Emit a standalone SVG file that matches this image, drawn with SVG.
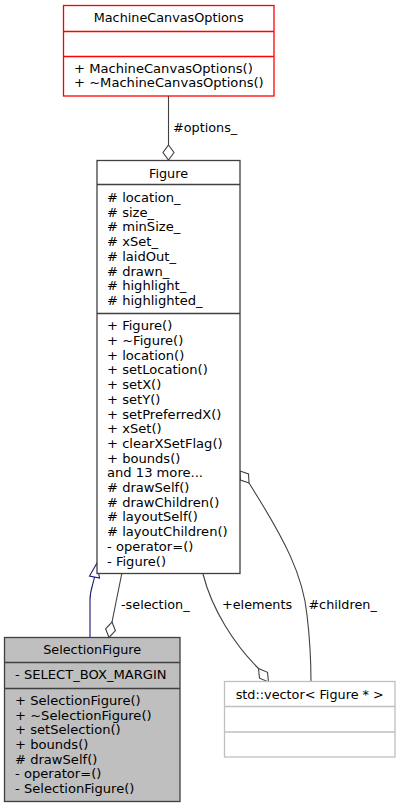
<svg xmlns="http://www.w3.org/2000/svg" width="401" height="808" viewBox="0 0 401 808">
<style>
text{font-family:"DejaVu Sans","Liberation Sans",sans-serif;font-size:12.8px;fill:#000}
.m{font-size:13.1px}
.c{text-anchor:middle}
.box{fill:#fff;stroke:#404040;stroke-width:1.3}
.sep{stroke:#404040;stroke-width:1.3}
.red{fill:#fff;stroke:#ff0000;stroke-width:1.3}
.redsep{stroke:#ff0000;stroke-width:1.3}
.grey{fill:#bfbfbf;stroke:#404040;stroke-width:1.3}
.light{fill:#fff;stroke:#bfbfbf;stroke-width:1.3}
.lightsep{stroke:#bfbfbf;stroke-width:1.3}
.edge{fill:none;stroke:#404040;stroke-width:1.1}
.dia{fill:#fff;stroke:#404040;stroke-width:1.1}
.inh{fill:none;stroke:#191970;stroke-width:1.1}
.tri{fill:#fff;stroke:#191970;stroke-width:1.1}
</style>
<g id="edges">
<path class="edge" d="M168.5,96 L168.5,145"/>
<polygon class="dia" points="168.5,145 174,152.5 168.5,160 163,152.5"/>
<text x="173" y="132">#options_</text>
<path class="inh" d="M90,637 L90,600 C90,590 93,585 94.5,577"/>
<polygon class="tri" points="97,563 89.5,576 99.5,578"/>
<path class="edge" d="M121.7,574 L112,622"/>
<polygon class="dia" points="112,622 115.4,630.7 109,637.5 105.6,628.8"/>
<text x="121" y="608.5">-selection_</text>
<path class="edge" d="M203,574 C212,610 235,645 258.5,668.5"/>
<polygon class="dia" points="258.5,668.5 267.5,672.3 268.5,682 259.5,678.2"/>
<text x="222" y="608.5">+elements</text>
<path class="edge" d="M311,682 C311,660 310,640 307,615 C303,575 285,540 249,483"/>
<polygon class="dia" points="240,471 248.5,474 249,483 240.5,480"/>
<text x="308.4" y="608.8">#children_</text>
</g>
<g id="MachineCanvasOptions">
<rect class="red" x="63.5" y="5.5" width="210.5" height="90.5"/>
<line class="redsep" x1="63.5" y1="31.5" x2="274" y2="31.5"/>
<line class="redsep" x1="63.5" y1="56.5" x2="274" y2="56.5"/>
<text class="c" x="168.7" y="22">MachineCanvasOptions</text>
<text class="m" x="74" y="72.6">+ MachineCanvasOptions()</text>
<text class="m" x="74" y="87.4">+ ~MachineCanvasOptions()</text>
</g>
<g id="Figure">
<rect class="box" x="97" y="160.5" width="143" height="413"/>
<line class="sep" x1="97" y1="184.5" x2="240" y2="184.5"/>
<line class="sep" x1="97" y1="313.5" x2="240" y2="313.5"/>
<text class="c" x="168.5" y="177.8">Figure</text>
<text class="m" x="107" y="202">
<tspan x="107" y="202"># location_</tspan>
<tspan x="107" y="216.7"># size_</tspan>
<tspan x="107" y="231.4"># minSize_</tspan>
<tspan x="107" y="246.1"># xSet_</tspan>
<tspan x="107" y="260.8"># laidOut_</tspan>
<tspan x="107" y="275.5"># drawn_</tspan>
<tspan x="107" y="290.2"># highlight_</tspan>
<tspan x="107" y="304.9"># highlighted_</tspan>
</text>
<text class="m" x="107" y="330.3">
<tspan x="107" y="330.3">+ Figure()</tspan>
<tspan x="107" y="345">+ ~Figure()</tspan>
<tspan x="107" y="359.7">+ location()</tspan>
<tspan x="107" y="374.4">+ setLocation()</tspan>
<tspan x="107" y="389.1">+ setX()</tspan>
<tspan x="107" y="403.8">+ setY()</tspan>
<tspan x="107" y="418.5">+ setPreferredX()</tspan>
<tspan x="107" y="433.2">+ xSet()</tspan>
<tspan x="107" y="447.9">+ clearXSetFlag()</tspan>
<tspan x="107" y="462.6">+ bounds()</tspan>
<tspan x="107" y="477.3">and 13 more...</tspan>
<tspan x="107" y="492"># drawSelf()</tspan>
<tspan x="107" y="506.7"># drawChildren()</tspan>
<tspan x="107" y="521.4"># layoutSelf()</tspan>
<tspan x="107" y="536.1"># layoutChildren()</tspan>
<tspan x="107" y="550.8">- operator=()</tspan>
<tspan x="107" y="565.5">- Figure()</tspan>
</text>
</g>
<g id="SelectionFigure">
<rect class="grey" x="4.5" y="637.5" width="175.5" height="164"/>
<line class="sep" x1="4.5" y1="662.5" x2="180" y2="662.5"/>
<line class="sep" x1="4.5" y1="688.5" x2="180" y2="688.5"/>
<text class="c" x="92.2" y="653.8">SelectionFigure</text>
<text class="m" x="15" y="678.8">- SELECT_BOX_MARGIN</text>
<text class="m" x="15" y="705.2">
<tspan x="15" y="705.2">+ SelectionFigure()</tspan>
<tspan x="15" y="719.8">+ ~SelectionFigure()</tspan>
<tspan x="15" y="734.4">+ setSelection()</tspan>
<tspan x="15" y="749">+ bounds()</tspan>
<tspan x="15" y="763.6"># drawSelf()</tspan>
<tspan x="15" y="778.2">- operator=()</tspan>
<tspan x="15" y="792.8">- SelectionFigure()</tspan>
</text>
</g>
<g id="vector">
<rect class="light" x="224.5" y="681.5" width="170.5" height="75.5"/>
<line class="lightsep" x1="224.5" y1="706.5" x2="395" y2="706.5"/>
<line class="lightsep" x1="224.5" y1="732" x2="395" y2="732"/>
<text class="c" x="309.7" y="698.5">std::vector&lt; Figure * &gt;</text>
</g>
</svg>
